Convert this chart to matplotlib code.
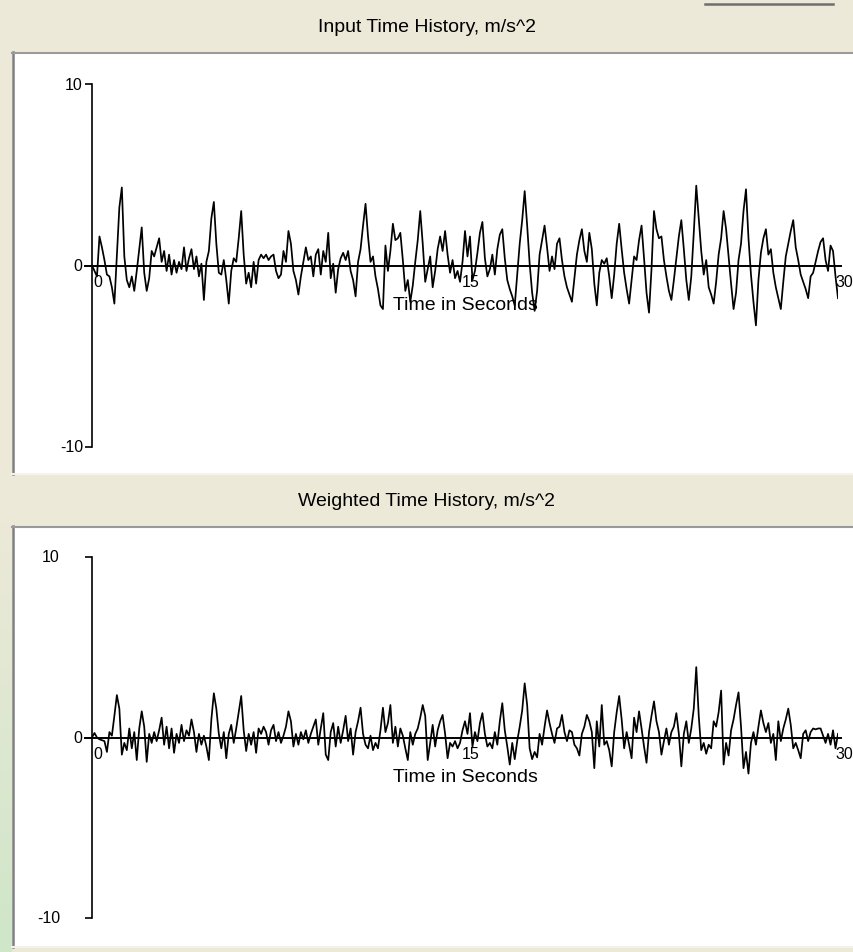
import numpy as np
import matplotlib
matplotlib.use("Agg")
import matplotlib.pyplot as plt
import matplotlib.transforms as mtransforms
from matplotlib.patches import Rectangle
from matplotlib.lines import Line2D

plt.rcParams['font.family'] = ['Liberation Sans', 'DejaVu Sans']

# --- данные (оценка по картинке), шаг 0.1 с ---
dt = 0.1
input_acc = [
    0.0, -0.3, -0.6, 1.6, 1.0, 0.3, -0.5, -0.6, -1.2, -2.1,
    0.5, 3.2, 4.3, 0.5, -0.8, -1.2, -0.6, -1.4, -0.3, 0.9,
    2.1, -0.4, -1.4, -0.7, 0.8, 0.5, 1.0, 1.5, 0.2, 0.8,
    -0.3, 0.6, -0.5, 0.3, -0.4, 0.2, -0.2, 1.0, -0.3, 0.4,
    0.9, -0.2, 0.5, -0.6, 0.1, -1.9, 0.2, 0.8, 2.6, 3.5,
    1.2, -0.4, -0.5, 0.3, -0.8, -2.1, -0.3, 0.4, 0.2, 1.5,
    3.0, 0.6, -1.0, -0.4, -1.2, 0.2, -1.0, 0.3, 0.6, 0.4,
    0.6, 0.3, 0.5, 0.6, -0.3, -0.7, -0.5, 0.8, 0.2, 1.9,
    1.2, -0.3, -0.8, -1.6, -0.6, 0.2, 1.0, 0.3, 0.5, -0.6,
    0.6, 0.9, -0.5, 0.8, 0.2, 1.8, -0.7, 0.1, -1.5, -0.2,
    0.4, 0.7, 0.3, 0.8, -0.3, -0.8, -1.7, 0.2, 0.9, 2.2,
    3.4, 1.6, 0.2, 0.5, -0.6, -1.3, -2.2, -2.4, 1.1, -0.3,
    0.8, 2.3, 1.4, 1.5, 1.8, 0.3, -1.4, -0.8, -2.0, -1.1,
    0.2, 1.4, 3.0, 1.2, -0.9, -0.2, 0.5, -1.2, -0.3, 0.9,
    1.6, 0.8, 1.9, 0.6, -0.4, 0.3, -0.7, -0.3, -0.9, 0.2,
    1.9, 0.5, 1.6, -0.8, -0.3, 0.7, 1.8, 2.4, 0.4, -0.6,
    -0.2, 0.6, -0.5, 0.9, 1.7, 2.0, 0.4, -0.8, -1.3, -1.7,
    -2.2, -0.5, 1.2, 2.5, 4.1, 2.2, 0.1, -1.5, -2.5, -1.4,
    0.6, 1.4, 2.2, 1.0, -0.3, 0.5, -0.2, 1.2, 1.5, 0.3,
    -0.6, -1.2, -1.6, -2.0, -0.7, 0.6, 1.4, 2.0, 0.8, 0.2,
    1.8, 0.9, -1.0, -2.2, -0.4, 0.3, 0.1, 0.4, -0.6, -1.8,
    -0.5, 1.2, 2.3, 0.9, -0.4, -1.3, -2.1, -0.8, 0.5, 0.3,
    1.4, 2.2, 0.4, -1.5, -2.6, -0.2, 3.0, 2.0, 1.5, 1.6,
    0.3, -0.6, -1.4, -1.9, -0.8, 0.4, 1.6, 2.5, 0.9, -0.8,
    -1.9, -0.6, 1.8, 4.4, 2.6, 0.8, -0.5, 0.3, -1.2, -1.6,
    -2.1, -0.9, 0.6, 1.5, 3.0, 2.0, 0.5, -1.0, -2.4, -1.5,
    0.3, 1.2, 3.0, 4.2, 1.5, -0.5, -2.0, -3.3, -0.8, 0.7,
    1.5, 2.0, 0.6, 0.9, -0.4, -1.2, -1.8, -2.4, -0.9, 0.5,
    1.2, 1.9, 2.5, 1.0, 0.3, -0.5, -0.9, -1.3, -1.8, -0.6,
    -0.4, 0.2, 0.8, 1.3, 1.5, 0.3, -0.3, 1.1, 0.8, -0.6,
    -1.8,
]
weighted_acc = [
    0.0, 0.25, 0.0, -0.1, -0.15, -0.2, -0.8, 0.3, 0.1, 1.2,
    2.35, 1.6, -0.95, -0.3, -0.7, 0.5, -0.6, 0.3, -1.25, 0.5,
    1.45, 0.6, -1.35, 0.2, -0.3, 0.3, -0.2, 0.4, 1.1, -0.4,
    0.6, -0.6, 0.5, -0.85, 0.2, -0.3, 0.7, -0.2, 0.4, 0.1,
    1.0, 0.3, -0.8, 0.2, -0.4, 0.1, -0.5, -1.25, 1.0, 2.45,
    1.6, 0.2, -0.6, 0.3, -1.15, 0.2, 0.7, -0.3, 0.5, 1.4,
    2.3, 0.4, -0.75, 0.2, -0.4, 0.3, -0.85, 0.5, 0.2, 0.6,
    0.3, -0.4, 0.4, 0.7, -0.2, 0.3, -0.3, 0.1, 0.6, 1.45,
    0.9, -0.5, 0.2, -0.4, 0.3, -0.1, 0.4, -0.3, 0.2, 0.6,
    1.0, -0.4, 0.5, 1.35, -0.95, -1.25, 0.3, 0.8, -0.5, 0.6,
    -0.3, 0.4, 1.2, -0.2, 0.5, -0.95, 0.3, 0.9, 1.65, 0.2,
    -0.4, -0.6, 0.1, -0.7, -0.3, -0.6, 0.4, 1.65, 0.3, 0.8,
    1.8, -0.3, 0.6, -0.5, 0.5, 0.1, -0.6, -1.25, 0.3, -0.4,
    0.2, 0.5, 1.1, 1.8, 1.2, -1.25, -0.3, 0.7, -0.5, 0.4,
    0.9, 1.25, 0.2, -1.15, -0.3, -0.5, -0.2, -0.6, -0.3, 0.4,
    0.9, 0.2, 1.35, -0.5, 0.3, -0.2, 0.8, 1.35, 0.2, -0.5,
    -0.3, -0.6, 0.3, -0.4, 0.9, 1.9, 0.4, -0.5, -1.5, -0.3,
    -1.2, -0.2, 0.6, 1.5, 3.0, 1.8, -0.6, -1.2, -0.8, -1.1,
    0.2, -0.4, 0.6, 1.5, 0.8, 0.2, -0.3, 0.5, 0.6, 1.25,
    0.3, -0.2, 0.4, 0.3, -0.4, -0.6, -1.0, 0.2, 0.6, 1.25,
    0.9, 0.3, -1.7, 0.9, -0.5, 1.8, -0.4, -0.2, -0.7, -1.6,
    0.3, 1.4, 2.3, 1.0, -0.6, 0.3, -0.4, -1.15, 1.1, 0.3,
    1.45, 0.5, -0.5, -1.4, 0.3, 1.2, 2.0, 0.9, 0.3, -0.95,
    -0.2, 0.5, -0.4, 0.3, 0.6, 1.35, 0.2, -1.6, 0.2, 0.9,
    -0.3, 0.5, 1.6, 3.9, 1.2, -0.7, -0.3, -0.9, -0.4, -0.6,
    0.9, 0.6, 1.4, 2.6, -1.5, -0.3, -1.0, 0.4, 1.0, 1.8,
    2.5, 0.6, -1.7, -0.8, -2.0, -0.3, 0.3, -0.4, 0.6, 1.5,
    0.8, 0.3, 0.8, -0.3, 0.2, -1.25, 0.9, -0.2, 0.5, 1.0,
    1.6, 0.7, -0.6, -0.3, -0.7, -1.15, 0.2, 0.4, -0.2, 0.3,
    0.5, 0.45, 0.5, 0.5, 0.1, -0.3, 0.2, -0.4, 0.4, -0.6,
    0.2,
]
titles = ["Input Time History, m/s^2", "Weighted Time History, m/s^2"]
x_ticks = [0, 15, 30]
y_ticks = [-10, 0, 10]
x_label = "Time in Seconds"

t = np.arange(len(input_acc)) * dt

# --- геометрия в пикселях ---
W, H = 854, 953
BEIGE = '#ECE9D8'


def frac(x0, y0, x1, y1):
    # прямоугольник в пикселях (от верхнего левого угла) -> доли фигуры
    return [x0 / W, 1 - y1 / H, (x1 - x0) / W, (y1 - y0) / H]


fig = plt.figure(figsize=(W / 100, H / 100), dpi=100, facecolor=BEIGE)

# фон: слева зеленоватый градиент рабочего стола
bg = fig.add_axes([0, 0, 1, 1], zorder=-10)
bg.set_xlim(0, W)
bg.set_ylim(H, 0)
bg.axis('off')
grad = np.linspace(0, 1, 200)[:, None]
cols = np.zeros((200, 1, 3))
c_top = np.array([0xEC, 0xE9, 0xD8]) / 255
c_bot = np.array([0xCF, 0xE6, 0xC8]) / 255
w = np.clip((grad - 0.55) / 0.45, 0, 1)
cols[:, 0, :] = c_top * (1 - w) + c_bot * w
bg.imshow(cols, extent=[0, 12, H, 0], aspect='auto')

panels = [(53, 475), (527, 948)]
for (y0, y1) in panels:
    bg.add_patch(Rectangle((12, y0), W - 12, y1 - y0, facecolor='white', edgecolor='none'))
    bg.add_line(Line2D([13, 13], [y0, y1], color='#7f7f7f', lw=1.8))
    bg.add_line(Line2D([12, W], [y0 + 1, y0 + 1], color='#9a9a9a', lw=1.5))
    bg.add_line(Line2D([12, W], [y1, y1], color='#f4f2ea', lw=1.5))
# полоска вверху справа
bg.add_line(Line2D([705, 833], [5, 5], color='#6e6e6e', lw=1.8))

fig.text(0.5, 1 - 27 / H, titles[0], ha='center', va='center', fontsize=14)
fig.text(0.5, 1 - 502 / H, titles[1], ha='center', va='center', fontsize=14)

ax_boxes = [(92, 85, 838, 448), (92, 558, 838, 919)]
series = [input_acc, weighted_acc]
# отступы подписей оси Y (пиксели): для +-10 и для 0
y_pads = [(9, 10), (32, 10)]

for k, (box, vals) in enumerate(zip(ax_boxes, series)):
    ax = fig.add_axes(frac(*box))
    ax.set_facecolor('none')
    ax.set_xlim(0, 30)
    ax.set_ylim(-10, 10)
    ax_w = box[2] - box[0]

    ax.plot(t, vals, color='black', lw=1.25)
    ax.axhline(0, xmin=-7 / ax_w, xmax=(841 - 92) / ax_w, color='black', lw=1.4, clip_on=False)

    for s in ['top', 'right', 'bottom']:
        ax.spines[s].set_visible(False)
    ax.spines['left'].set_linewidth(1.2)
    ax.set_xticks([])
    ax.set_yticks(y_ticks)
    ax.set_yticklabels([])
    ax.tick_params(axis='y', direction='out', length=5, width=1.2)

    for yv in y_ticks:
        pad = y_pads[k][1] if yv == 0 else y_pads[k][0]
        ax.text(-pad / ax_w, yv, str(yv), transform=ax.get_yaxis_transform(),
                ha='right', va='center', fontsize=11.5)

    lab_tr = mtransforms.offset_copy(ax.transData, fig=fig, x=6, y=-16, units='dots')
    for xv in x_ticks:
        ax.text(xv, 0, str(xv), transform=lab_tr, ha='center', va='center', fontsize=11.5)
    xl_tr = mtransforms.offset_copy(ax.transData, fig=fig, x=0, y=-39, units='dots')
    ax.text(15, 0, x_label, transform=xl_tr, ha='center', va='center', fontsize=14)

fig.savefig('out.png', dpi=100, facecolor=BEIGE)
